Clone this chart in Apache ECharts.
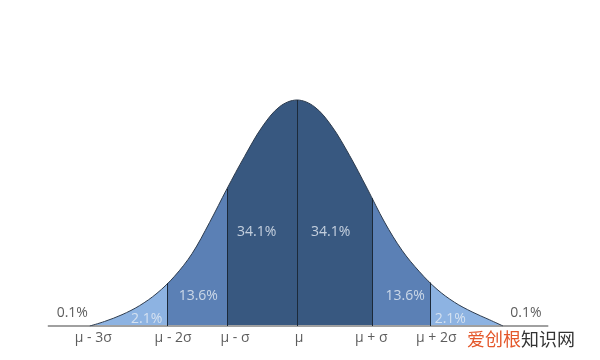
<!DOCTYPE html>
<html>
<head>
<meta charset="utf-8">
<script src="https://cdn.jsdelivr.net/npm/echarts@6/dist/echarts.min.js"></script>
<style>html,body{margin:0;padding:0;background:#fff}#c{width:600px;height:360px}</style>
</head>
<body>
<div id="c"></div>
<script>
// Curve readings (x in sigma-like units, y = density height)
const curveX = [-2.96, -2.75, -2.50, -2.25, -2.00, -1.75, -1.50, -1.25, -1.00, -0.75, -0.50, -0.25, 0, 0.25, 0.50, 0.75, 1.00, 1.25, 1.50, 1.75, 2.00, 2.25, 2.50, 2.75, 2.943];
const curveY = [0, 0.008, 0.020, 0.036, 0.058, 0.088, 0.128, 0.183, 0.243, 0.300, 0.352, 0.388, 0.400, 0.388, 0.353, 0.302, 0.244, 0.184, 0.134, 0.096, 0.065, 0.042, 0.025, 0.011, 0];
// Region boundaries (μ-2σ, μ-σ, μ, μ+σ, μ+2σ) and curve height there
const bounds = [-1.847, -1.0, 0, 1.076, 1.90];
const boundH = [0.076, 0.243, 0.400, 0.226, 0.077];
// Percent labels
const pctText = ['0.1%', '2.1%', '13.6%', '34.1%', '34.1%', '13.6%', '2.1%', '0.1%'];
const pctX = [-3.21, -2.147, -1.41, -0.576, 0.481, 1.544, 2.19, 3.27];
const pctY = [0.023, 0.0124, 0.053, 0.167, 0.167, 0.053, 0.0124, 0.023];
// Tick labels
const tickText = ['\u03bc - 3\u03c3', '\u03bc - 2\u03c3', '\u03bc - \u03c3', '\u03bc', '\u03bc + \u03c3', '\u03bc + 2\u03c3'];
const tickX = [-2.91, -1.77, -0.886, 0.03, 1.06, 1.99];
const baseX = [-3.56, 3.59];

const light = '#8db3e2', mid = '#5b80b5', dark = '#385880';
const curve = curveX.map((x, i) => [x, curveY[i]]);
const chart = echarts.init(document.getElementById('c'));
chart.setOption({
  animation: false,
  grid: { left: 17, right: 23, top: 43.5, bottom: 34 },
  xAxis: { type: 'value', min: -4, max: 4, show: false },
  yAxis: { type: 'value', min: 0, max: 0.5, show: false },
  visualMap: {
    show: false, type: 'piecewise', dimension: 0, seriesIndex: 0,
    pieces: [
      { lt: bounds[0], color: light },
      { gte: bounds[0], lt: bounds[1], color: mid },
      { gte: bounds[1], lt: bounds[3], color: dark },
      { gte: bounds[3], lt: bounds[4], color: mid },
      { gte: bounds[4], color: light }
    ]
  },
  series: [
    { type: 'line', data: curve, smooth: 0.35, symbol: 'none', lineStyle: { width: 0 }, areaStyle: { opacity: 1 }, z: 1, silent: true },
    { type: 'line', data: [[baseX[0], 0], [baseX[1], 0]], symbol: 'none', lineStyle: { color: '#a0a0a0', width: 2 }, z: 2, silent: true },
    { type: 'line', data: curve, smooth: 0.35, symbol: 'none', lineStyle: { color: '#2e3c4e', width: 1 }, z: 3, silent: true,
      markLine: { silent: true, symbol: 'none', label: { show: false },
        lineStyle: { color: '#1c2a3a', width: 1, type: 'solid' },
        data: bounds.map((b, i) => [{ coord: [b, 0] }, { coord: [b, boundH[i]] }]) } },
    { type: 'scatter', symbolSize: 0, z: 5, silent: true,
      data: pctText.map((t, i) => ({ value: [pctX[i], pctY[i]], name: t,
        label: { color: (i === 0 || i === 7) ? '#333333' : '#e6ecf4' } })),
      label: { show: true, position: 'inside', formatter: p => p.name, fontFamily: 'Open Sans', fontSize: 14 } },
    { type: 'scatter', symbolSize: 0, z: 5, silent: true,
      data: tickText.map((t, i) => ({ value: [tickX[i], 0], name: t })),
      label: { show: true, position: 'bottom', distance: 5, formatter: p => p.name, color: '#333333', fontFamily: 'Open Sans', fontSize: 14 } }
  ],
  graphic: [{
    type: 'text', left: 467, top: 330,
    style: { text: '{a|爱创根}{b|知识网}', rich: {
      a: { fill: '#e4572a', fontSize: 18, fontFamily: 'Noto Sans CJK SC' },
      b: { fill: '#333333', fontSize: 18, fontFamily: 'Noto Sans CJK SC' } } }
  }]
});
</script>
</body>
</html>
